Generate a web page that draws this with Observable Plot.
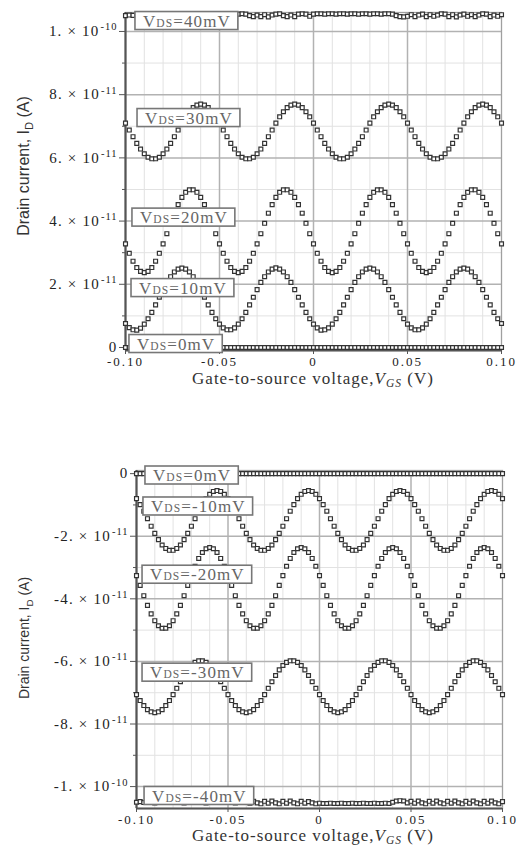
<!DOCTYPE html>
<html>
<head>
<meta charset="utf-8">
<script src="https://cdn.jsdelivr.net/npm/d3@7"></script>
<script src="https://cdn.jsdelivr.net/npm/@observablehq/plot@0.6"></script>
<style>
  body { margin: 0; background: #fff; }
  #wrap { position: relative; width: 526px; height: 845px; overflow: hidden; background: #fff; }
  #top, #bot { position: absolute; left: 0; }
  #top { top: 0; }
  #bot { top: 455px; }
</style>
</head>
<body>
<div id="wrap"><div id="top"></div><div id="bot"></div></div>
<script>
// Gate-to-source voltage sweep (mV)
const VGS_mV = [-100,-98,-96,-94,-92,-90,-88,-86,-84,-82,-80,-78,-76,-74,-72,-70,-68,-66,-64,-62,-60,-58,-56,-54,-52,-50,-48,-46,-44,-42,-40,-38,-36,-34,-32,-30,-28,-26,-24,-22,-20,-18,-16,-14,-12,-10,-8,-6,-4,-2,0,2,4,6,8,10,12,14,16,18,20,22,24,26,28,30,32,34,36,38,40,42,44,46,48,50,52,54,56,58,60,62,64,66,68,70,72,74,76,78,80,82,84,86,88,90,92,94,96,98,100];

// Drain current values, in units of 1e-11 A
const I_0mV = [0,0,0,0,0,0,0,0,0,0,0,0,0,0,0,0,0,0,0,0,0,0,0,0,0,0,0,0,0,0,0,0,0,0,0,0,0,0,0,0,0,0,0,0,0,0,0,0,0,0,0,0,0,0,0,0,0,0,0,0,0,0,0,0,0,0,0,0,0,0,0,0,0,0,0,0,0,0,0,0,0,0,0,0,0,0,0,0,0,0,0,0,0,0,0,0,0,0,0,0,0];
const I_10mV = [0.76,0.63,0.56,0.55,0.61,0.74,0.91,1.11,1.35,1.59,1.83,2.06,2.24,2.39,2.48,2.51,2.48,2.39,2.24,2.06,1.83,1.59,1.35,1.11,0.91,
  0.74,0.62,0.56,0.56,0.62,0.74,0.91,1.11,1.35,1.59,1.83,2.06,2.24,2.39,2.48,2.52,2.48,2.39,2.24,2.06,1.83,1.59,1.35,1.11,0.91,
  0.74,0.62,0.55,0.56,0.62,0.74,0.91,1.11,1.35,1.59,1.83,2.06,2.24,2.39,2.48,2.51,2.48,2.39,2.24,2.06,1.83,1.59,1.35,1.11,0.91,
  0.74,0.62,0.56,0.56,0.62,0.74,0.91,1.11,1.35,1.59,1.83,2.06,2.24,2.39,2.48,2.51,2.48,2.39,2.24,2.06,1.83,1.59,1.35,1.11,0.91,0.76];
const I_20mV = [3.28,2.98,2.73,2.53,2.41,2.37,2.41,2.53,2.73,2.98,3.28,3.60,3.93,4.25,4.52,4.75,4.91,4.99,4.99,4.91,4.75,4.52,4.25,3.93,3.60,
  3.28,2.98,2.73,2.53,2.41,2.37,2.41,2.53,2.73,2.98,3.28,3.60,3.93,4.25,4.52,4.75,4.91,4.99,4.99,4.91,4.75,4.52,4.25,3.93,3.60,
  3.28,2.98,2.73,2.53,2.41,2.37,2.41,2.53,2.73,2.98,3.28,3.60,3.93,4.25,4.52,4.75,4.91,4.99,4.99,4.91,4.75,4.52,4.25,3.93,3.60,
  3.28,2.98,2.73,2.53,2.41,2.37,2.41,2.53,2.73,2.98,3.28,3.60,3.93,4.25,4.52,4.75,4.91,4.99,4.99,4.91,4.75,4.52,4.25,3.93,3.60,3.28];
const I_30mV = [7.10,6.88,6.67,6.46,6.28,6.13,6.02,5.97,5.97,6.02,6.13,6.28,6.46,6.67,6.88,7.10,7.30,7.46,7.59,7.67,7.70,7.67,7.59,7.46,7.30,
  7.10,6.88,6.67,6.46,6.28,6.13,6.02,5.97,5.97,6.02,6.13,6.28,6.46,6.67,6.88,7.10,7.30,7.46,7.59,7.67,7.70,7.67,7.59,7.46,7.30,
  7.10,6.88,6.67,6.46,6.28,6.13,6.02,5.97,5.97,6.02,6.13,6.28,6.46,6.67,6.88,7.10,7.30,7.46,7.59,7.67,7.70,7.67,7.59,7.46,7.30,
  7.10,6.88,6.67,6.46,6.28,6.13,6.02,5.97,5.97,6.02,6.13,6.28,6.46,6.67,6.88,7.10,7.30,7.46,7.59,7.67,7.70,7.67,7.59,7.46,7.30,7.10];
const I_40mV = [10.50,10.52,10.51,10.50,10.52,10.51,10.50,10.52,10.51,10.50,10.52,10.51,10.50,10.51,10.52,10.50,10.51,10.52,10.50,10.51,10.50,10.52,10.51,10.50,10.52,10.51,10.50,10.51,10.52,10.50,
  10.55,10.56,10.55,10.50,10.47,10.52,10.47,10.53,10.46,10.52,10.55,10.56,10.50,10.47,10.52,10.47,10.55,10.56,10.55,10.48,
  10.55,10.56,10.56,10.55,10.56,10.56,10.55,10.56,10.56,10.55,10.56,10.56,10.55,10.56,10.56,10.55,10.56,10.56,10.55,10.56,10.56,10.55,10.50,10.47,10.46,
  10.48,10.53,10.47,10.52,10.55,10.47,10.53,10.48,10.52,10.56,10.55,10.47,10.53,10.46,10.52,10.55,10.48,10.53,10.47,10.52,10.56,10.55,10.47,10.52,10.48,10.53];
const I_m10mV = [-0.80,-0.99,-1.20,-1.44,-1.68,-1.91,-2.11,-2.28,-2.39,-2.45,-2.45,-2.39,-2.28,-2.11,-1.91,-1.68,-1.44,-1.20,-0.99,-0.80,-0.66,-0.57,-0.54,-0.57,-0.66,
  -0.80,-0.99,-1.20,-1.44,-1.68,-1.91,-2.11,-2.28,-2.39,-2.45,-2.45,-2.39,-2.28,-2.11,-1.91,-1.68,-1.44,-1.20,-0.99,-0.80,-0.66,-0.57,-0.54,-0.57,-0.66,
  -0.80,-0.99,-1.20,-1.44,-1.68,-1.91,-2.11,-2.28,-2.39,-2.45,-2.45,-2.39,-2.28,-2.11,-1.91,-1.68,-1.44,-1.20,-0.99,-0.80,-0.66,-0.57,-0.54,-0.57,-0.66,
  -0.80,-0.99,-1.20,-1.44,-1.68,-1.91,-2.11,-2.28,-2.39,-2.45,-2.45,-2.39,-2.28,-2.11,-1.91,-1.68,-1.44,-1.20,-0.99,-0.80,-0.66,-0.57,-0.54,-0.57,-0.66,-0.80];
const I_m20mV = [-3.26,-3.57,-3.90,-4.21,-4.48,-4.70,-4.86,-4.94,-4.94,-4.86,-4.70,-4.48,-4.21,-3.90,-3.57,-3.26,-2.96,-2.71,-2.52,-2.40,-2.36,-2.40,-2.52,-2.71,-2.96,
  -3.26,-3.57,-3.90,-4.21,-4.48,-4.70,-4.86,-4.94,-4.94,-4.86,-4.70,-4.48,-4.21,-3.90,-3.57,-3.26,-2.96,-2.71,-2.52,-2.40,-2.36,-2.40,-2.52,-2.71,-2.96,
  -3.26,-3.57,-3.90,-4.21,-4.48,-4.70,-4.86,-4.94,-4.94,-4.86,-4.70,-4.48,-4.21,-3.90,-3.57,-3.26,-2.96,-2.71,-2.52,-2.40,-2.36,-2.40,-2.52,-2.71,-2.96,
  -3.26,-3.57,-3.90,-4.21,-4.48,-4.70,-4.86,-4.94,-4.94,-4.86,-4.70,-4.48,-4.21,-3.90,-3.57,-3.26,-2.96,-2.71,-2.52,-2.40,-2.36,-2.40,-2.52,-2.71,-2.96,-3.26];
const I_m30mV = [-7.06,-7.25,-7.41,-7.54,-7.61,-7.64,-7.61,-7.54,-7.41,-7.25,-7.06,-6.86,-6.65,-6.45,-6.27,-6.13,-6.03,-5.98,-5.98,-6.03,-6.13,-6.27,-6.45,-6.65,-6.86,
  -7.06,-7.25,-7.41,-7.54,-7.61,-7.64,-7.61,-7.54,-7.41,-7.25,-7.06,-6.86,-6.65,-6.45,-6.27,-6.13,-6.03,-5.98,-5.98,-6.03,-6.13,-6.27,-6.45,-6.65,-6.86,
  -7.06,-7.25,-7.41,-7.54,-7.61,-7.64,-7.61,-7.54,-7.41,-7.25,-7.06,-6.86,-6.65,-6.45,-6.27,-6.13,-6.03,-5.98,-5.98,-6.03,-6.13,-6.27,-6.45,-6.65,-6.86,
  -7.06,-7.25,-7.41,-7.54,-7.61,-7.64,-7.61,-7.54,-7.41,-7.25,-7.06,-6.86,-6.65,-6.45,-6.27,-6.13,-6.03,-5.98,-5.98,-6.03,-6.13,-6.27,-6.45,-6.65,-6.86,-7.06];
const I_m40mV = [-10.50,-10.48,-10.51,-10.50,-10.48,-10.52,-10.50,-10.49,-10.51,-10.50,-10.48,-10.51,-10.50,-10.52,-10.49,-10.50,-10.51,-10.48,-10.50,-10.52,-10.50,-10.49,-10.51,-10.50,-10.48,-10.51,-10.50,-10.52,-10.49,-10.50,
  -10.46,-10.53,-10.47,-10.52,-10.55,-10.47,-10.53,-10.46,-10.52,-10.55,-10.47,-10.53,-10.46,-10.52,-10.55,-10.47,-10.53,-10.48,-10.52,-10.55,
  -10.53,-10.54,-10.54,-10.53,-10.54,-10.54,-10.53,-10.54,-10.54,-10.53,-10.54,-10.54,-10.53,-10.54,-10.54,-10.53,-10.54,-10.54,-10.53,-10.54,-10.50,-10.46,-10.45,-10.46,-10.52,
  -10.47,-10.53,-10.46,-10.52,-10.55,-10.47,-10.53,-10.46,-10.52,-10.55,-10.47,-10.53,-10.46,-10.52,-10.55,-10.47,-10.53,-10.46,-10.52,-10.55,-10.47,-10.53,-10.46,-10.52,-10.55,-10.48];

// Series names (VDS)
const VDS_top = ["40mV", "30mV", "20mV", "10mV", "0mV"];
const VDS_bot = ["0mV", "-10mV", "-20mV", "-30mV", "-40mV"];

// Ticks
const xTicks = [-0.1, -0.05, 0, 0.05, 0.1];
const xTickLabels = ["-0.10", "-0.05", "0", "0.05", "0.10"];
const xMinor = [-0.09,-0.08,-0.07,-0.06,-0.04,-0.03,-0.02,-0.01,0.01,0.02,0.03,0.04,0.06,0.07,0.08,0.09];
const yTicksTop = [0, 2, 4, 6, 8, 10];
const yTickLabelsTop = ["0", "2. × 10^-11", "4. × 10^-11", "6. × 10^-11", "8. × 10^-11", "1. × 10^-10"];
const yMinorTop = [1, 3, 5, 7, 9];
const yTicksBot = [0, -2, -4, -6, -8, -10];
const yTickLabelsBot = ["0", "-2. × 10^-11", "-4. × 10^-11", "-6. × 10^-11", "-8. × 10^-11", "-1. × 10^-10"];
const yMinorBot = [-1, -3, -5, -7, -9];

const SERIF = "'Liberation Serif','Times New Roman',Times,serif";
const NARROW = "'Liberation Sans Narrow','Arial Narrow','Liberation Sans',Arial,sans-serif";

function render(container, cfg) {
  const data = [];
  cfg.series.forEach((vals, k) => vals.forEach((v, i) => data.push({vgs: VGS_mV[i] / 1000, id: v, vds: cfg.names[k]})));
  const plot = Plot.plot({
    width: 526, height: cfg.height,
    marginLeft: cfg.ml, marginRight: cfg.mr, marginTop: cfg.mt, marginBottom: cfg.mb,
    style: {fontFamily: SERIF, fontSize: "13px", color: "#2a2a2a", background: "white", overflow: "visible"},
    x: {domain: [-0.1, 0.1], label: null},
    y: {domain: cfg.yDomain, label: null},
    marks: [
      Plot.ruleX(xMinor, {stroke: "#e2e2e2", strokeWidth: 1}),
      Plot.ruleY(cfg.yMinor, {stroke: "#e2e2e2", strokeWidth: 1}),
      Plot.ruleX(xTicks.slice(1, -1), {stroke: "#b2b2b2", strokeWidth: 1.5}),
      Plot.ruleY(cfg.yTicks, {stroke: "#b2b2b2", strokeWidth: 1.5}),
      Plot.frame({stroke: "#a0a0a0", strokeWidth: 1.3}),
      Plot.ruleX([-0.1], {stroke: "#555", strokeWidth: 2.2}),
      Plot.ruleY([cfg.yDomain[0]], {stroke: "#555", strokeWidth: 2.2}),
      Plot.axisX(xTicks, {tickFormat: (d) => xTickLabels[xTicks.indexOf(d)], tickSize: 4, tickPadding: 2.5, fontSize: 13, stroke: "#555"}),
      Plot.axisY(cfg.yTicks, {tickFormat: (d) => cfg.yLabels[cfg.yTicks.indexOf(d)], tickSize: 6, tickPadding: 2, fontSize: 13, stroke: "#555"}),
      Plot.axisY(cfg.yMinor, {tickFormat: () => "", tickSize: 3, stroke: "#555"}),
      Plot.dot(data, {x: "vgs", y: "id", symbol: "square", r: 2.2, stroke: "#333", strokeWidth: 1.2, fill: "white"})
    ]
  });
  container.appendChild(plot);
  const svg = d3.select(plot);
  // x tick labels: wider spacing as in the reference
  svg.selectAll('g[aria-label="x-axis tick label"] text').style("font-size", "13px").style("letter-spacing", "2px").style("fill", "#222");
  // superscript exponents on y tick labels
  svg.selectAll('g[aria-label="y-axis tick label"] text').each(function () {
    const t = this.textContent;
    const sel = d3.select(this);
    sel.style("font-size", "15px").style("letter-spacing", "1.2px").style("fill", "#222");
    if (t.includes("^")) {
      const [base, exp] = t.split("^");
      sel.text(base);
      sel.append("tspan").attr("dx", 1).attr("dy", "-0.55em").style("font-size", "10.5px").style("letter-spacing", "1px").text(exp);
    }
  });
  const sx = plot.scale("x"), sy = plot.scale("y");
  // VDS label boxes
  const lg = svg.append("g");
  cfg.labels.forEach((L, k) => {
    const x0 = sx.apply(L.x), yc = sy.apply(L.y);
    const g = lg.append("g");
    const rect = g.append("rect");
    const t = g.append("text").attr("x", x0 + 8).attr("y", yc).attr("dy", "0.36em").attr("text-anchor", "start")
      .attr("font-family", SERIF).attr("font-size", 17).attr("fill", "#666").attr("letter-spacing", 1.1);
    t.append("tspan").text("V");
    t.append("tspan").attr("font-size", 11.5).text("DS");
    t.append("tspan").text("=" + cfg.names[k]);
    const bb = t.node().getBBox();
    rect.attr("x", x0).attr("y", yc - 9).attr("width", bb.width + 15).attr("height", 18)
      .attr("fill", "white").attr("stroke", "#777").attr("stroke-width", 1.6);
  });
  // x-axis title
  const xt = svg.append("text").attr("x", 313).attr("y", cfg.xTitleY).attr("text-anchor", "middle")
    .attr("font-family", SERIF).attr("font-size", 17).attr("letter-spacing", 1).attr("fill", "#333");
  xt.append("tspan").text("Gate-to-source voltage,");
  xt.append("tspan").attr("font-style", "italic").text("V");
  xt.append("tspan").attr("font-style", "italic").attr("font-size", 11.5).attr("dy", 2.5).text("GS");
  xt.append("tspan").attr("dy", -2.5).text(" (V)");
  // y-axis title
  const yt = svg.append("text").attr("transform", `translate(29,${cfg.yTitleY}) rotate(-90)`).attr("text-anchor", "middle")
    .attr("font-family", NARROW).attr("font-size", cfg.yTitleSize).attr("fill", "#333");
  yt.append("tspan").text("Drain current, I");
  yt.append("tspan").attr("font-size", cfg.yTitleSize * 0.7).attr("dy", 4).text("D");
  yt.append("tspan").attr("dy", -4).text(" (A)");
}

render(document.getElementById("top"), {
  height: 392, ml: 125, mr: 25, mt: 12, mb: 42,
  yDomain: [-0.095, 10.6],
  yTicks: yTicksTop, yLabels: yTickLabelsTop, yMinor: yMinorTop,
  series: [I_40mV, I_30mV, I_20mV, I_10mV, I_0mV], names: VDS_top,
  labels: [{x: -0.0947, y: 10.33}, {x: -0.0936, y: 7.26}, {x: -0.0963, y: 4.11}, {x: -0.0968, y: 1.88}, {x: -0.0979, y: 0.11}],
  xTitleY: 384, yTitleY: 166, yTitleSize: 16
});
render(document.getElementById("bot"), {
  height: 390, ml: 136, mr: 24, mt: 15, mb: 37,
  yDomain: [-10.7, 0.1],
  yTicks: yTicksBot, yLabels: yTickLabelsBot, yMinor: yMinorBot,
  series: [I_0mV, I_m10mV, I_m20mV, I_m30mV, I_m40mV], names: VDS_bot,
  labels: [{x: -0.0951, y: -0.06}, {x: -0.0962, y: -1.05}, {x: -0.0967, y: -3.23}, {x: -0.0967, y: -6.36}, {x: -0.0956, y: -10.30}],
  xTitleY: 386, yTitleY: 183, yTitleSize: 14
});
</script>
</body>
</html>
